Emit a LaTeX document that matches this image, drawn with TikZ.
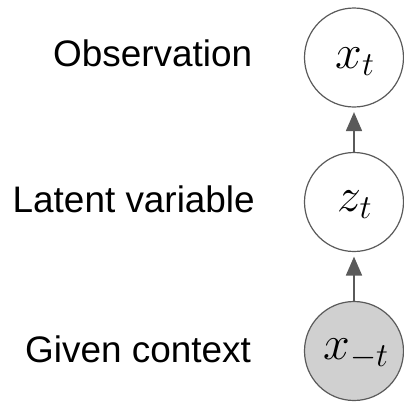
\RequirePackage{fix-cm}
\documentclass[tikz,border=0pt]{standalone}
\usepackage{fontspec}
\setmainfont{Liberation Sans}
\usetikzlibrary{arrows.meta}
\definecolor{edgegray}{HTML}{5A5A5A}
\definecolor{obsfill}{HTML}{D0D0D0}
\begin{document}
\begin{tikzpicture}[x=1bp,y=-1bp,
  var/.style={circle,draw=edgegray,line width=1.2bp,minimum size=99bp,inner sep=0pt},
  given/.style={var,fill=obsfill},
  mathlbl/.style={anchor=base,inner sep=0pt,font=\fontsize{48bp}{50bp}\selectfont},
  caption/.style={anchor=base west,inner sep=0pt,text=black,font=\fontsize{36.9bp}{40bp}\selectfont},
  arr/.style={draw=edgegray,line width=1.8bp,-{Triangle[length=19bp,width=16bp]},shorten >=4.5bp}]
\useasboundingbox (0,0) rectangle (404,402);
\node[var] (xt) at (354,57.5) {};
\node[var] (zt) at (354,202) {};
\node[given] (xmt) at (354,351) {};
\node[mathlbl] (lxt) at (355,68) {$x_t$};
\node[mathlbl] (lzt) at (355,211) {$z_t$};
\node[mathlbl] (lxmt) at (356,359) {$x_{-t}$};
\node[caption] (cobs) at (53,66.7) {Observation};
\node[caption] (clat) at (12.5,212.7) {Latent variable};
\node[caption] (cgiv) at (25,362.5) {Given context};
\draw[arr] (zt) -- (xt);
\draw[arr] (xmt) -- (zt);
\end{tikzpicture}
\end{document}
